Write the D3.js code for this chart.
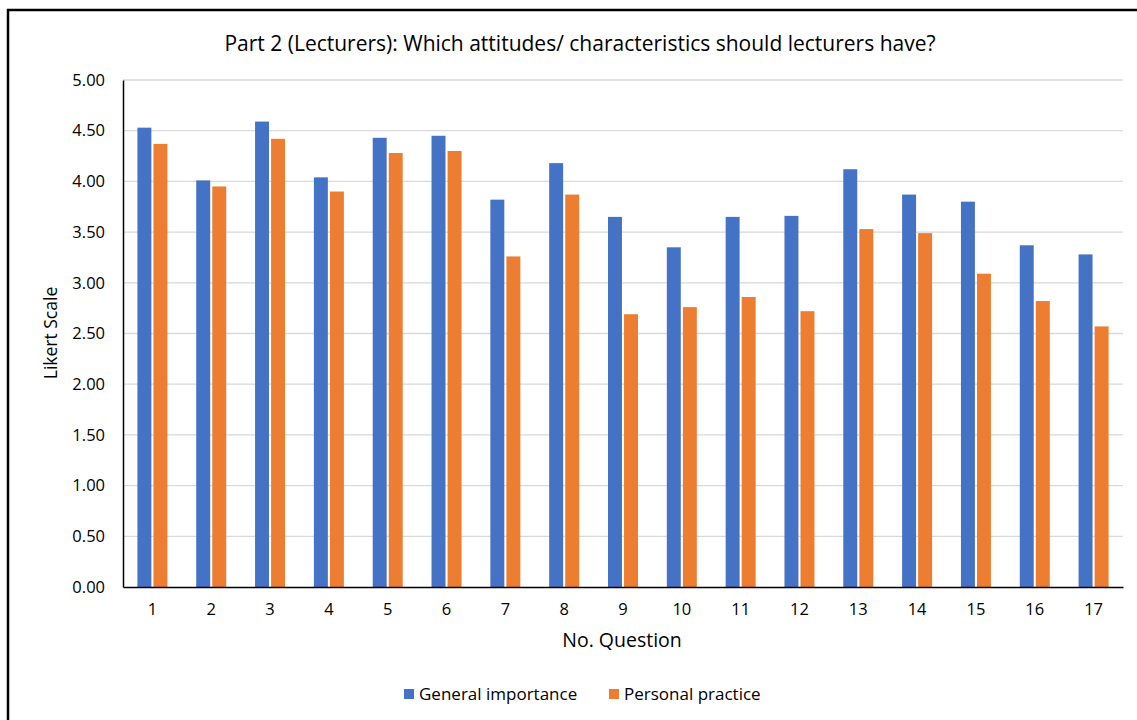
<!DOCTYPE html>
<html>
<head>
<meta charset="utf-8">
<script src="https://cdn.jsdelivr.net/npm/d3@7"></script>
<style>
  body { margin: 0; background: #fff; }
  svg { display: block; font-family: "Open Sans", "Noto Sans", sans-serif; }
</style>
</head>
<body>
<svg width="1137" height="720"></svg>
<script>
// chart data
const questions = ['1','2','3','4','5','6','7','8','9','10','11','12','13','14','15','16','17'];
const generalImportance = [4.53, 4.01, 4.59, 4.04, 4.43, 4.45, 3.82, 4.18, 3.65, 3.35, 3.65, 3.66, 4.12, 3.87, 3.80, 3.37, 3.28];
const personalPractice = [4.37, 3.95, 4.42, 3.90, 4.28, 4.30, 3.26, 3.87, 2.69, 2.76, 2.86, 2.72, 3.53, 3.49, 3.09, 2.82, 2.57];
const seriesNames = ['General importance', 'Personal practice'];
const yTicks = [0, 0.5, 1, 1.5, 2, 2.5, 3, 3.5, 4, 4.5, 5];

const colors = ['#4472C4', '#ED7D31'];

var svg = d3.select('svg');

// outer frame
svg.append('rect')
    .attr('x', 8).attr('y', 10)
    .attr('width', 1150).attr('height', 730)
    .attr('fill', 'none')
    .attr('stroke', '#000')
    .attr('stroke-width', 2.5);

var pLeft = 123, pRight = 1123, pTop = 80, pBottom = 587;

var x = d3.scaleBand()
    .domain(questions)
    .range([pLeft, pRight]);

var inner = d3.scaleBand()
    .domain([0, 1])
    .range([0, 30])
    .paddingInner(0.13);

var y = d3.scaleLinear()
    .domain([0, 5])
    .range([pBottom, pTop]);

// gridlines
svg.append('g').selectAll('line')
    .data(yTicks.filter(d => d > 0)).enter().append('line')
    .attr('x1', pLeft).attr('x2', pRight)
    .attr('y1', d => y(d)).attr('y2', d => y(d))
    .attr('stroke', '#d9d9d9')
    .attr('stroke-width', 1.3);

// bars
var series = [generalImportance, personalPractice];
series.forEach((vals, si) => {
    svg.append('g').selectAll('rect')
        .data(vals).enter().append('rect')
        .attr('x', (d, i) => x(questions[i]) + x.bandwidth() / 2 - 15 + inner(si))
        .attr('y', d => y(d))
        .attr('width', inner.bandwidth())
        .attr('height', d => y(0) - y(d))
        .attr('fill', colors[si]);
});

// y axis
var yAxis = svg.append('g')
    .attr('transform', `translate(${pLeft},0)`)
    .call(d3.axisLeft(y).tickValues(yTicks).tickFormat(d3.format('.2f')).tickSize(0).tickPadding(18));
yAxis.select('.domain').attr('stroke', '#000').attr('stroke-width', 1.5);
yAxis.selectAll('text').attr('font-size', 16.5).attr('fill', '#000').attr('font-family', '"Open Sans", sans-serif');

// x axis
var xAxis = svg.append('g')
    .attr('transform', `translate(0,${pBottom})`)
    .call(d3.axisBottom(x).tickSize(0).tickPadding(16));
xAxis.select('.domain').attr('stroke', '#000').attr('stroke-width', 1.5);
xAxis.selectAll('text').attr('font-size', 16.5).attr('fill', '#000').attr('font-family', '"Open Sans", sans-serif');

// titles
svg.append('text')
    .attr('x', 580).attr('y', 51)
    .attr('text-anchor', 'middle')
    .attr('font-size', 21)
    .attr('fill', '#000')
    .text('Part 2 (Lecturers): Which attitudes/ characteristics should lecturers have?');

svg.append('text')
    .attr('x', 622).attr('y', 647)
    .attr('text-anchor', 'middle')
    .attr('font-size', 19.5)
    .attr('fill', '#000')
    .text('No. Question');

svg.append('text')
    .attr('transform', 'translate(57,333) rotate(-90)')
    .attr('text-anchor', 'middle')
    .attr('font-size', 17.5)
    .attr('fill', '#000')
    .text('Likert Scale');

// legend
var legendX = [404, 609];
seriesNames.forEach((name, i) => {
    var g = svg.append('g').attr('transform', `translate(${legendX[i]},689)`);
    g.append('rect').attr('width', 10).attr('height', 10).attr('fill', colors[i]);
    g.append('text')
        .attr('x', 15).attr('y', 11)
        .attr('font-size', 17)
        .attr('fill', '#000')
        .text(name);
});
</script>
</body>
</html>
